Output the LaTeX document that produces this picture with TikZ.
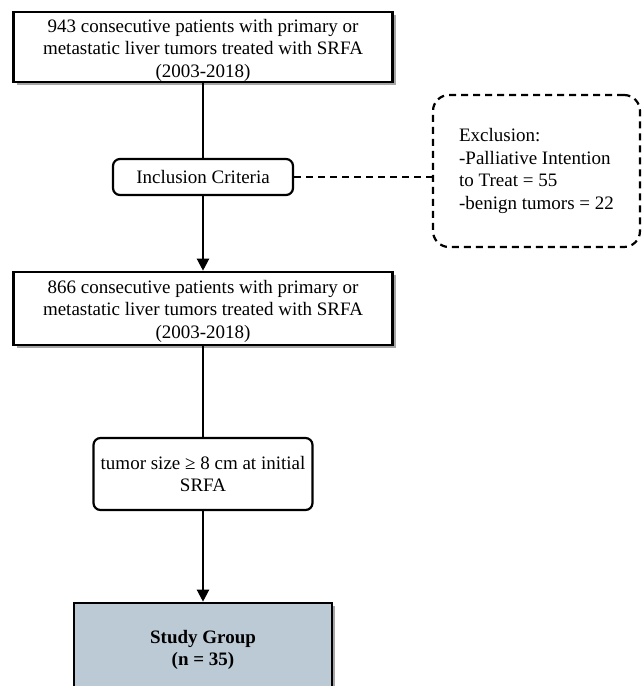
\documentclass[tikz,border=0pt]{standalone}
\usepackage{fontspec}
\setmainfont{Liberation Serif}
\usepackage{tikz}
\usetikzlibrary{positioning, shapes, arrows.meta, calc, shadows}

\begin{document}
\begin{tikzpicture}[x=1pt, y=-1pt,
    font=\fontsize{19}{22.5}\selectfont,
    box/.style={rectangle, draw, line width=2.6pt, align=center, inner sep=0pt,
      drop shadow={shadow xshift=3pt, shadow yshift=-3pt, fill=black!35, opacity=1}},
    crit/.style={rectangle, rounded corners=7pt, draw, line width=2.2pt, align=center, inner sep=0pt, fill=white},
    link/.style={line width=2.2pt},
    tip/.style={-{Triangle[length=12pt, width=12pt]}}]
                  \useasboundingbox (0,0) rectangle (641,686);

                  % Nodes
                  \node[box, fill=white, minimum width=379pt, text height=65pt, text depth=5pt] (pat943) at (203,47)
                    {943 consecutive patients with primary or\\ metastatic liver tumors treated with SRFA\\ (2003-2018)};
                  \node[crit, minimum width=180pt, minimum height=36pt] (incl) at (203,177) {Inclusion Criteria};
                  \node[rectangle, rounded corners=16pt, draw, dash pattern=on 7pt off 5pt, line width=2.2pt,
                    minimum width=207pt, minimum height=152pt, align=left, inner sep=0pt] (excl) at (536.5,171)
                    {Exclusion:\\ -Palliative Intention\\ to Treat = 55\\ -benign tumors = 22};
                  \node[box, fill=white, minimum width=379pt, text height=66pt, text depth=7pt] (pat866) at (203,308.5)
                    {866 consecutive patients with primary or\\ metastatic liver tumors treated with SRFA\\ (2003-2018)};
                  \node[crit, minimum width=219pt, minimum height=72pt] (size) at (203,474)
                    {tumor size ≥ 8 cm at initial\\ SRFA};
                  \node[box, fill={rgb,255:red,188;green,202;blue,214}, minimum width=258pt, minimum height=94pt,
                    font=\fontsize{19}{22.5}\selectfont\bfseries] (study) at (203,650)
                    {Study Group\\ (n = 35)};

                  % Arrows
                  \draw[link] (pat943) -- (incl);
                  \draw[link, tip] (incl) -- (pat866);
                  \draw[link] (pat866) -- (size);
                  \draw[link, tip] (size) -- (study);
                  \draw[link, dash pattern=on 7pt off 5pt] (incl) -- (incl -| excl.west);
              \end{tikzpicture}
\end{document}
